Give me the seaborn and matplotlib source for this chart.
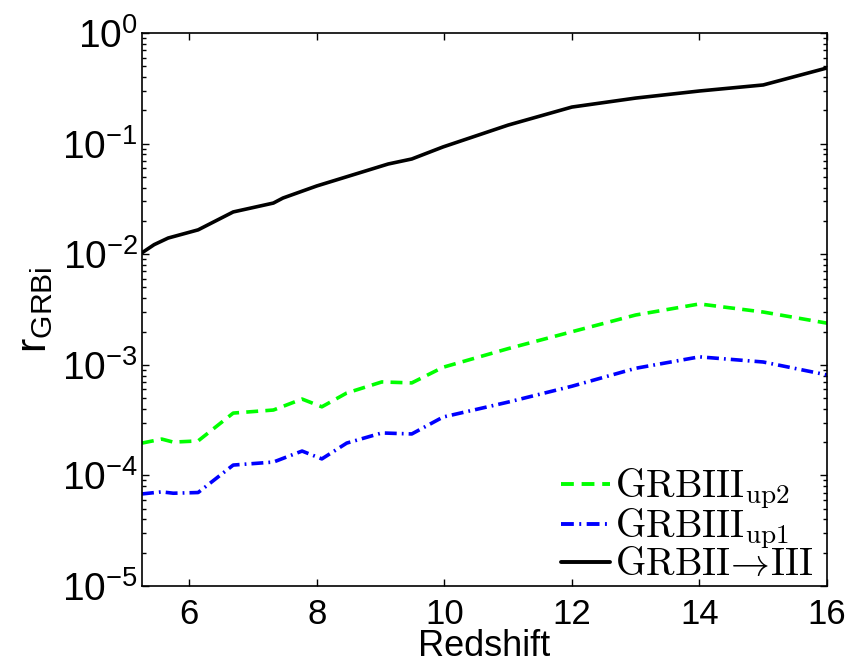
import matplotlib
matplotlib.use("Agg")
import matplotlib.pyplot as plt
import seaborn as sns
import pandas as pd
import numpy as np
from matplotlib.ticker import LogLocator, FixedLocator, NullFormatter

# ---- data ----
z_black = [5.26, 5.45, 5.67, 6.14, 6.69, 7.32, 7.47, 8.0, 9.12, 9.49, 9.98, 11.0, 12.0, 13.0, 14.0, 15.0, 16.0]
r_black = [0.0103, 0.0122, 0.0140, 0.0166, 0.0241, 0.0290, 0.0322, 0.0414, 0.0654, 0.0726, 0.0933,
           0.147, 0.214, 0.258, 0.299, 0.339, 0.483]

z_col = [5.26, 5.57, 5.75, 6.14, 6.69, 7.32, 7.77, 8.08, 8.47, 9.02, 9.49, 9.98, 11.0, 12.0, 13.0, 14.0, 15.0, 16.0]
r_up2 = [1.96e-4, 2.13e-4, 2.0e-4, 2.05e-4, 3.66e-4, 3.9e-4, 4.9e-4, 4.17e-4, 5.56e-4, 7.0e-4, 6.86e-4,
         9.5e-4, 1.4e-3, 1.99e-3, 2.82e-3, 3.55e-3, 3.0e-3, 2.38e-3]
r_up1 = [6.8e-5, 7.1e-5, 6.9e-5, 7.0e-5, 1.24e-4, 1.32e-4, 1.66e-4, 1.41e-4, 1.96e-4, 2.42e-4, 2.37e-4,
         3.37e-4, 4.6e-4, 6.4e-4, 9.3e-4, 1.18e-3, 1.06e-3, 8.1e-4]

lab_up2 = r'$\mathrm{GRBIII}_{\mathrm{up2}}$'
lab_up1 = r'$\mathrm{GRBIII}_{\mathrm{up1}}$'
lab_ii = r'$\mathrm{GRBII}\!\rightarrow\!\mathrm{III}$'

xticks = [6, 8, 10, 12, 14, 16]

df = pd.concat([
    pd.DataFrame({"z": z_col, "r": r_up2, "series": lab_up2}),
    pd.DataFrame({"z": z_col, "r": r_up1, "series": lab_up1}),
    pd.DataFrame({"z": z_black, "r": r_black, "series": lab_ii}),
], ignore_index=True)

sns.set_style("ticks")
plt.rcParams['font.family'] = ['Liberation Sans', 'DejaVu Sans']
plt.rcParams['mathtext.fontset'] = 'cm'
for k in ['text.color', 'axes.labelcolor', 'xtick.color', 'ytick.color', 'axes.edgecolor']:
    plt.rcParams[k] = 'black'

fig = plt.figure(figsize=(8.52, 6.65), dpi=100)
ax = fig.add_axes([142/852, 1-586/665, (827-142)/852, (586-33)/665])

palette = {lab_up2: '#00ff00', lab_up1: '#0000ff', lab_ii: '#000000'}
dashes = {lab_up2: (3.3, 2.0), lab_up1: (3.3, 1.4, 0.5, 1.4), lab_ii: ''}
sns.lineplot(data=df, x="z", y="r", hue="series", style="series",
             palette=palette, dashes=dashes, estimator=None, sort=False,
             linewidth=2.6, ax=ax, legend=True)

ax.set_yscale('log')
ax.set_xlim(5.26, 16)
ax.set_ylim(1e-5, 1)
ax.xaxis.set_major_locator(FixedLocator(xticks))
ax.set_xticklabels([str(t) for t in xticks])
ax.yaxis.set_major_locator(LogLocator(base=10, numticks=10))
ax.yaxis.set_minor_locator(LogLocator(base=10, subs=np.arange(2, 10), numticks=10))
ax.yaxis.set_minor_formatter(NullFormatter())

for s in ax.spines.values():
    s.set_visible(True)
    s.set_linewidth(1.2)
ax.tick_params(which='both', direction='in', top=True, right=True, width=1.0)
ax.tick_params(which='major', length=5)
ax.tick_params(which='minor', length=3)
ax.tick_params(axis='x', labelsize=25, pad=9)
ax.tick_params(axis='y', labelsize=28, pad=3)

ax.set_xlabel('Redshift', fontsize=26, labelpad=-2)
ax.set_ylabel(r'$\mathregular{r_{GRBi}}$', fontsize=31, labelpad=5)

leg = ax.legend(loc='lower right', frameon=False, fontsize=28, handlelength=1.25,
                handletextpad=0.15, labelspacing=-0.1, borderaxespad=0.1,
                bbox_to_anchor=(1.01, -0.03))
for line in leg.get_lines():
    line.set_linewidth(2.8)

fig.savefig('out.png', dpi=100)
